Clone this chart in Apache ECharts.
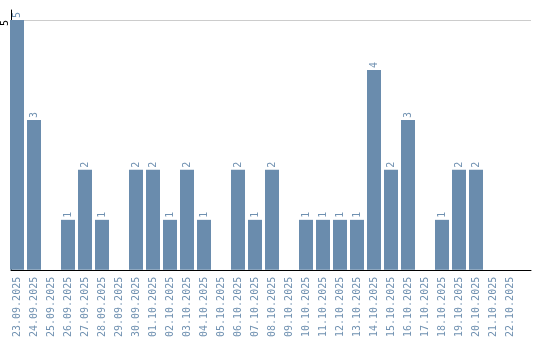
<!DOCTYPE html>
<html>
<head>
<meta charset="utf-8">
<script src="https://cdn.jsdelivr.net/npm/echarts@6/dist/echarts.min.js"></script>
<style>html,body{margin:0;padding:0;background:#fff}#c{width:540px;height:340px}</style>
</head>
<body>
<div id="c"></div>
<script>
var categories = ["23.09.2025","24.09.2025","25.09.2025","26.09.2025","27.09.2025","28.09.2025","29.09.2025","30.09.2025","01.10.2025","02.10.2025","03.10.2025","04.10.2025","05.10.2025","06.10.2025","07.10.2025","08.10.2025","09.10.2025","10.10.2025","11.10.2025","12.10.2025","13.10.2025","14.10.2025","15.10.2025","16.10.2025","17.10.2025","18.10.2025","19.10.2025","20.10.2025","21.10.2025","22.10.2025"];
var values = [5,3,0,1,2,1,0,2,2,1,2,1,0,2,1,2,0,1,1,1,1,4,2,3,0,1,2,2,0,0];
var yTicks = [5];

var barColor = '#6a8cad';
var textColor = '#7091b1';
var font = 'DejaVu Sans Mono';

var chart = echarts.init(document.getElementById('c'), null, {renderer: 'canvas'});
chart.setOption({
  animation: false,
  grid: [
    {left: 8.5, width: 510, top: 10, height: 260, containLabel: false},
    {left: 10, right: 9, top: 10, height: 260, containLabel: false}
  ],
  xAxis: [
    {
      type: 'category', gridIndex: 0, data: categories,
      axisLine: {show: false}, axisTick: {show: false},
      axisLabel: {rotate: 90, interval: 0, margin: 7, color: textColor, fontFamily: font, fontSize: 10}
    },
    {
      type: 'value', gridIndex: 1, min: 0, max: 1,
      axisLine: {show: true, lineStyle: {color: '#000', width: 1}},
      axisTick: {show: false}, axisLabel: {show: false}, splitLine: {show: false}
    }
  ],
  yAxis: [
    {type: 'value', gridIndex: 0, min: 0, max: 5.2, show: false},
    {
      type: 'value', gridIndex: 1, min: 0, max: 5.2, interval: 5,
      axisLine: {show: true, lineStyle: {color: '#000', width: 1}},
      axisTick: {show: false},
      axisLabel: {
        show: true, rotate: 90, margin: 6, color: '#000', fontFamily: font, fontSize: 10,
        align: 'right', verticalAlign: 'middle',
        showMaxLabel: false,
        formatter: function (v) { return yTicks.indexOf(v) >= 0 ? String(v) : ''; }
      },
      splitLine: {show: true, showMinLine: false, showMaxLine: false, lineStyle: {color: '#cccccc', width: 1}}
    }
  ],
  series: [{
    type: 'bar', xAxisIndex: 0, yAxisIndex: 0, data: values, barWidth: 14,
    itemStyle: {color: barColor},
    label: {
      show: true, position: 'top', rotate: 90, align: 'left', verticalAlign: 'middle', distance: 2,
      color: textColor, fontFamily: font, fontSize: 10,
      formatter: function (p) { return p.value > 0 ? String(p.value) : ''; }
    }
  }]
});
</script>
</body>
</html>
